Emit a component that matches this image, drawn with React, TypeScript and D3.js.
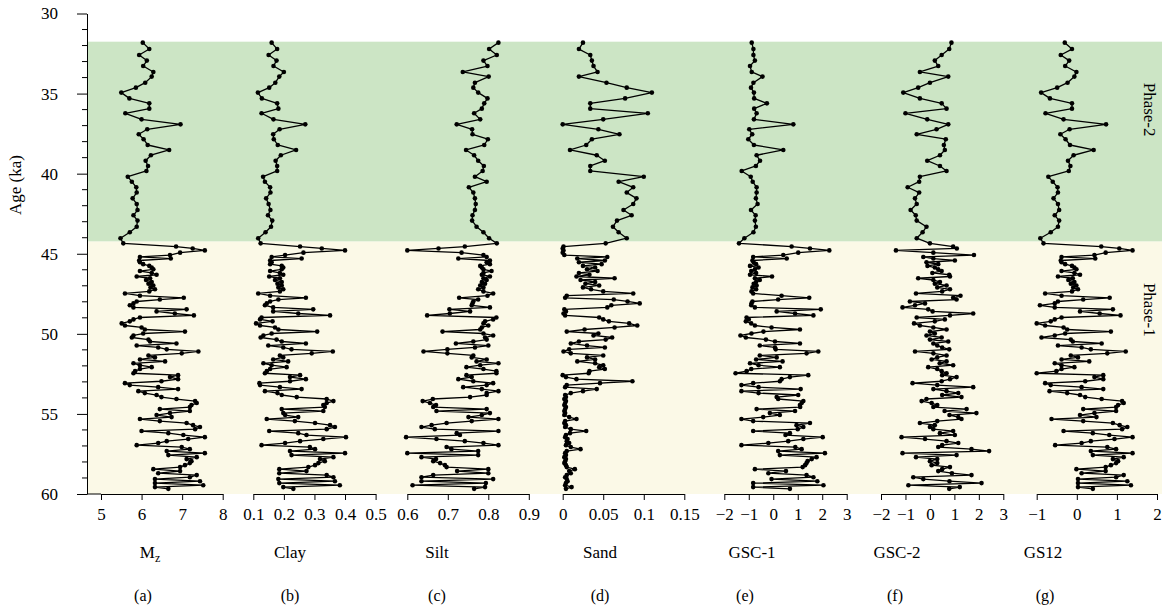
import React, { useEffect, useRef } from "react";
import * as d3 from "d3";

const WIDTH = 1167;
const HEIGHT = 616;

// sample ages (ka)
const phase2Ages = [
  31.82, 32.22, 32.59, 32.94, 33.28, 33.65, 33.94, 34.32, 34.63, 34.94,
  35.3, 35.61, 35.94, 36.23, 36.61, 36.92, 37.23, 37.54, 37.85, 38.21,
  38.52, 38.85, 39.19, 39.52, 39.83, 40.19, 40.5, 40.85, 41.18, 41.54,
  41.89, 42.27, 42.6, 42.93, 43.31, 43.66, 44.03, 44.35,
];
const phase1Ages = [
  44.55, 44.67, 44.79, 44.93, 45.08, 45.2, 45.3, 45.42, 45.53, 45.65,
  45.76, 45.86, 45.97, 46.08, 46.2, 46.31, 46.42, 46.53, 46.64, 46.76,
  46.87, 46.98, 47.1, 47.22, 47.35, 47.48, 47.62, 47.75, 47.86, 47.98,
  48.1, 48.22, 48.35, 48.47, 48.6, 48.73, 48.85, 48.98, 49.1, 49.22,
  49.35, 49.48, 49.6, 49.73, 49.86, 49.98, 50.1, 50.23, 50.36, 50.48,
  50.6, 50.73, 50.85, 50.97, 51.1, 51.22, 51.35, 51.47, 51.6, 51.72,
  51.84, 51.96, 52.08, 52.2, 52.33, 52.46, 52.58, 52.7, 52.83, 52.96,
  53.08, 53.2, 53.33, 53.45, 53.58, 53.7, 53.82, 53.95, 54.07, 54.2,
  54.32, 54.45, 54.57, 54.7, 54.82, 54.95, 55.07, 55.2, 55.32, 55.45,
  55.57, 55.7, 55.82, 55.95, 56.07, 56.2, 56.32, 56.45, 56.57, 56.7,
  56.82, 56.95, 57.07, 57.2, 57.32, 57.45, 57.57, 57.7, 57.82, 57.95,
  58.07, 58.2, 58.32, 58.45, 58.57, 58.7, 58.82, 58.95, 59.07, 59.2,
  59.32, 59.45, 59.57, 59.68,
];

const mzPhase2 = [
  6.03, 6.19, 5.94, 6.13, 6.04, 6.29, 6.25, 6.09, 5.86, 5.5,
  5.7, 6.19, 6.19, 5.6, 6.0, 6.96, 6.14, 5.93, 6.05, 6.15,
  6.68, 6.23, 6.1, 6.16, 6.12, 5.66, 5.76, 5.87, 5.88, 5.78,
  5.88, 5.9, 5.8, 5.9, 5.88, 5.71, 5.48, 5.55,
];
const mzPhase1 = [
  6.85, 7.26, 7.56, 6.95, 6.7, 5.96, 6.72, 5.94, 5.96, 6.04,
  6.19, 6.25, 6.29, 5.96, 6.25, 6.37, 5.88, 6.21, 6.11, 6.25,
  6.17, 6.29, 6.22, 6.33, 6.19, 5.59, 5.96, 7.04, 6.45, 5.88,
  5.8, 5.71, 5.8, 7.11, 6.37, 6.82, 7.29, 5.96, 5.8, 5.71,
  5.51, 5.59, 6.0, 6.08, 7.07, 6.04, 5.8, 5.76, 6.17, 6.21,
  6.86, 5.88, 6.41, 6.62, 7.4, 6.99, 6.17, 6.33, 5.96, 6.58,
  5.8, 5.96, 6.25, 5.96, 5.84, 5.8, 6.9, 6.7, 6.9, 6.49,
  5.59, 5.71, 6.41, 6.9, 5.92, 6.08, 6.37, 6.49, 6.86, 7.32,
  7.36, 7.23, 7.19, 6.45, 7.19, 6.7, 6.37, 6.74, 5.96, 6.45,
  7.11, 7.27, 7.44, 7.32, 6.0, 6.66, 7.03, 7.56, 7.15, 6.62,
  6.41, 5.88, 6.99, 7.19, 6.62, 7.56, 6.66, 7.36, 7.11, 7.23,
  7.19, 7.07, 6.95, 6.29, 6.95, 6.41, 7.36, 7.19, 6.33, 7.44,
  6.33, 7.52, 6.33, 6.66,
];

const clayPhase2 = [
  0.16, 0.178, 0.15, 0.176, 0.166, 0.2, 0.185, 0.172, 0.152, 0.115,
  0.128, 0.178, 0.182, 0.127, 0.166, 0.27, 0.186, 0.165, 0.167, 0.18,
  0.24, 0.19, 0.173, 0.178, 0.178, 0.132, 0.138, 0.155, 0.156, 0.142,
  0.15, 0.156, 0.148, 0.162, 0.158, 0.14, 0.116, 0.124,
];
const clayPhase1 = [
  0.253, 0.324, 0.4, 0.264, 0.204, 0.16, 0.258, 0.155, 0.16, 0.155,
  0.193, 0.198, 0.193, 0.155, 0.187, 0.198, 0.152, 0.187, 0.171, 0.193,
  0.179, 0.193, 0.182, 0.198, 0.187, 0.116, 0.155, 0.272, 0.182, 0.155,
  0.144, 0.138, 0.165, 0.296, 0.165, 0.247, 0.351, 0.127, 0.122, 0.163,
  0.109, 0.122, 0.171, 0.182, 0.309, 0.16, 0.133, 0.124, 0.176, 0.193,
  0.272, 0.149, 0.198, 0.225, 0.36, 0.291, 0.187, 0.198, 0.165, 0.214,
  0.133, 0.16, 0.209, 0.155, 0.144, 0.138, 0.253, 0.22, 0.272, 0.22,
  0.12, 0.122, 0.187, 0.258, 0.138, 0.179, 0.193, 0.242, 0.34, 0.362,
  0.34, 0.329, 0.334, 0.193, 0.329, 0.198, 0.204, 0.247, 0.144, 0.236,
  0.302, 0.351, 0.367, 0.34, 0.152, 0.247, 0.274, 0.403, 0.329, 0.253,
  0.204, 0.127, 0.285, 0.302, 0.22, 0.4, 0.225, 0.362, 0.318, 0.334,
  0.313, 0.302, 0.28, 0.185, 0.274, 0.185, 0.34, 0.362, 0.182, 0.367,
  0.185, 0.383, 0.198, 0.231,
];

const siltPhase2 = [
  0.825, 0.802, 0.821, 0.788, 0.798, 0.737, 0.801, 0.767, 0.763, 0.775,
  0.798, 0.79, 0.784, 0.765, 0.78, 0.722, 0.76, 0.761, 0.799, 0.79,
  0.745, 0.765, 0.775, 0.789, 0.786, 0.767, 0.796, 0.752, 0.763, 0.767,
  0.769, 0.767, 0.761, 0.76, 0.771, 0.788, 0.802, 0.821,
];
const siltPhase1 = [
  0.742, 0.677, 0.6, 0.734, 0.788, 0.796, 0.726, 0.804, 0.796, 0.804,
  0.78, 0.784, 0.788, 0.808, 0.788, 0.784, 0.804, 0.788, 0.796, 0.784,
  0.792, 0.78, 0.788, 0.775, 0.788, 0.812, 0.798, 0.728, 0.775, 0.763,
  0.761, 0.759, 0.804, 0.704, 0.755, 0.705, 0.649, 0.82, 0.812, 0.792,
  0.788, 0.8, 0.784, 0.78, 0.687, 0.788, 0.812, 0.792, 0.796, 0.763,
  0.72, 0.8, 0.767, 0.699, 0.64, 0.699, 0.763, 0.759, 0.796, 0.771,
  0.825, 0.78, 0.746, 0.788, 0.82, 0.82, 0.746, 0.759, 0.726, 0.763,
  0.812, 0.796, 0.738, 0.784, 0.825, 0.796, 0.796, 0.755, 0.663, 0.638,
  0.656, 0.671, 0.664, 0.796, 0.672, 0.804, 0.784, 0.751, 0.825, 0.759,
  0.697, 0.66, 0.635, 0.668, 0.825, 0.722, 0.73, 0.597, 0.672, 0.742,
  0.788, 0.825, 0.697, 0.709, 0.775, 0.6, 0.775, 0.635, 0.671, 0.664,
  0.681, 0.693, 0.697, 0.8, 0.723, 0.8, 0.664, 0.635, 0.812, 0.635,
  0.794, 0.613, 0.792, 0.765,
];

const sandPhase2 = [
  0.025, 0.02, 0.034, 0.036, 0.038, 0.043, 0.02, 0.054, 0.079, 0.11,
  0.077, 0.034, 0.034, 0.105, 0.05, 0.0, 0.044, 0.07, 0.036, 0.029,
  0.009, 0.042, 0.052, 0.034, 0.034, 0.1, 0.069, 0.087, 0.079, 0.091,
  0.087, 0.075, 0.085, 0.067, 0.062, 0.069, 0.079, 0.053,
];
const sandPhase1 = [
  0.001, 0.0, 0.001, 0.0, 0.002, 0.055, 0.018, 0.052, 0.02, 0.048,
  0.025, 0.04, 0.03, 0.043, 0.02, 0.033, 0.017, 0.064, 0.022, 0.04,
  0.028, 0.045, 0.025, 0.035, 0.05, 0.087, 0.005, 0.003, 0.063, 0.08,
  0.095, 0.06, 0.055, 0.002, 0.004, 0.001, 0.003, 0.045, 0.05, 0.057,
  0.082, 0.092, 0.064, 0.027, 0.005, 0.044, 0.038, 0.061, 0.053, 0.02,
  0.01, 0.03, 0.052, 0.008, 0.001, 0.01, 0.05, 0.03, 0.04, 0.018,
  0.04, 0.05, 0.045, 0.052, 0.033, 0.032, 0.0, 0.004, 0.017, 0.086,
  0.046, 0.005, 0.003, 0.042, 0.025, 0.01, 0.003, 0.004, 0.002, 0.004,
  0.003, 0.002, 0.004, 0.003, 0.002, 0.003, 0.002, 0.008, 0.017, 0.003,
  0.002, 0.004, 0.003, 0.01, 0.029, 0.009, 0.004, 0.003, 0.006, 0.005,
  0.008, 0.004, 0.01, 0.022, 0.005, 0.003, 0.004, 0.002, 0.004, 0.003,
  0.002, 0.004, 0.005, 0.015, 0.008, 0.01, 0.005, 0.003, 0.005, 0.006,
  0.004, 0.003, 0.011, 0.004,
];

const gsc1Phase2 = [
  -0.88, -0.81, -0.81, -0.75, -0.95, -0.88, -0.44, -0.81, -0.91, -0.79,
  -0.78, -0.26, -0.78, -0.68, -0.79, 0.82, -0.98, -0.86, -1.02, -0.79,
  0.41, -0.68, -0.54, -0.71, -1.29, -0.92, -0.84, -0.68, -0.68, -0.71,
  -0.64, -0.91, -0.72, -0.75, -0.71, -0.81, -1.18, -1.4,
];
const gsc1Phase1 = [
  0.75, 1.5, 2.29, 1.02, 0.41, -0.82, 0.55, -0.85, -0.8, -0.7,
  -0.95, -0.6, -0.75, -0.9, -0.7, -0.95, -0.05, -0.75, -0.55, -0.7,
  -0.8, -0.68, -0.85, -0.7, -0.89, -0.82, 0.34, 1.47, 0.2, -0.85,
  -0.89, -0.9, -0.75, 1.94, 0.14, 0.89, 1.64, -1.09, -1.0, -1.12,
  -0.9, -0.75, -0.07, 1.09, -0.4, -0.89, -1.34, -1.12, -0.3, 0.07,
  1.09, -0.55, 0.07, 0.1, 1.84, 1.36, -0.55, 0.14, -0.7, 0.38,
  -0.95, -0.6, 0.27, -0.9, -1.09, -1.54, 1.43, 0.68, 0.34, 0.27,
  -0.82, -1.3, -0.6, 1.12, -1.3, -0.6, 1.02, 0.14, 0.2, 1.23,
  1.16, 1.09, 1.1, -0.68, 0.89, -0.14, 0.27, -0.41, -1.3, -0.82,
  1.5, 0.95, 1.23, 1.0, -0.82, 0.68, 0.5, 2.02, 1.23, 0.61,
  -0.2, -1.3, 0.9, 1.16, 0.2, 2.11, 0.27, 1.77, 1.57, 1.4,
  1.36, 1.3, 1.2, -0.75, 0.52, -0.2, 1.36, 1.64, -0.07, 1.8,
  -0.82, 2.05, -0.82, 0.68,
];

const gsc2Phase2 = [
  0.88, 0.79, 0.48, 0.2, 0.34, -0.41, 0.75, 0.0, -0.48, -1.09,
  -0.41, 0.48, 0.68, -1.0, -0.11, 0.75, 0.27, -0.54, 0.65, 0.57,
  0.61, 0.41, -0.11, 0.41, 0.68, -0.41, -0.44, -0.91, -0.44, -0.61,
  -0.54, -0.79, -0.58, -0.54, -0.14, -0.3, -0.54, 0.0,
];
const gsc2Phase1 = [
  0.95, 1.1, -1.39, 0.14, 1.8, -0.27, 0.14, 1.02, -0.14, 0.34,
  -0.1, 0.2, 0.34, 0.48, 0.1, 0.79, 0.82, -0.48, 0.14, 0.41,
  0.2, 0.68, 0.3, 0.82, 0.5, -0.57, 1.25, 0.95, 1.09, -0.82,
  -0.2, -0.61, -1.12, -0.07, 0.11, 1.77, 0.82, -0.54, 0.61, 0.2,
  -0.65, -0.41, 0.14, 0.68, 0.0, 0.2, -0.14, 0.48, 0.0, 0.75,
  0.14, 0.3, 0.5, 0.79, -0.61, 0.14, 0.68, 0.3, 0.07, 0.68,
  0.4, 0.95, -0.07, 0.3, 0.48, 0.68, 0.5, 1.09, 0.82, 0.48,
  -0.71, 0.3, 1.77, 0.14, 0.68, 1.16, 0.5, 1.29, -0.14, -0.34,
  0.07, 0.3, 0.14, 1.5, 0.6, 1.9, 0.8, 1.16, 1.29, 0.3,
  -0.41, 0.2, 0.0, 0.14, 0.95, 0.41, 1.02, -1.16, -0.2, 0.68,
  1.16, 0.5, 0.34, 1.7, 2.42, -1.12, 1.09, -0.57, 0.3, 0.0,
  0.3, 0.07, 0.82, 0.5, 0.34, 0.9, 1.7, -0.68, -0.27, 0.8,
  2.11, -0.88, 1.22, 0.79,
];

const gs12Phase2 = [
  -0.3, -0.12, -0.4, -0.19, -0.29, -0.01, -0.06, -0.23, -0.49, -0.89,
  -0.67, -0.12, -0.12, -0.78, -0.33, 0.73, -0.18, -0.41, -0.28, -0.17,
  0.42, -0.08, -0.22, -0.16, -0.2, -0.71, -0.6, -0.48, -0.47, -0.58,
  -0.47, -0.44, -0.55, -0.44, -0.47, -0.65, -0.91, -0.83,
];
const gs12Phase1 = [
  0.61, 1.06, 1.39, 0.72, 0.44, -0.38, 0.46, -0.4, -0.38, -0.29,
  -0.12, -0.06, -0.01, -0.38, -0.06, 0.08, -0.47, -0.1, -0.21, -0.06,
  -0.15, -0.01, -0.09, 0.03, -0.12, -0.79, -0.38, 0.82, 0.16, -0.47,
  -0.55, -0.92, -0.55, 0.9, 0.08, 0.57, 1.09, -0.38, -0.55, -0.65,
  -1.0, -0.79, -0.33, -0.24, 0.85, -0.29, -0.55, -0.88, -0.15, -0.1,
  0.62, -0.47, 0.12, 0.35, 1.22, 0.76, -0.15, 0.03, -0.38, 0.31,
  -0.55, -0.38, -0.06, -0.38, -0.51, -1.0, 0.66, 0.44, 0.66, 0.21,
  -0.79, -0.65, 0.12, 0.66, -0.68, -0.24, 0.08, 0.21, 0.62, 1.13,
  1.17, 1.03, 0.98, 0.16, 0.98, 0.44, 0.08, 0.49, -0.63, 0.16,
  0.9, 1.07, 1.26, 1.13, -0.33, 0.4, 0.81, 1.39, 0.94, 0.35,
  0.12, -0.54, 0.76, 0.98, 0.35, 1.39, 0.4, 1.17, 0.9, 1.03,
  0.98, 0.85, 0.72, -0.01, 0.72, 0.12, 1.17, 0.98, 0.03, 1.26,
  0.03, 1.35, 0.03, 0.4,
];

const ageTicks = [30, 35, 40, 45, 50, 55, 60];
const minorAgeTicks = d3.range(30, 61, 1);
// green band top, phase boundary, bottom
const phaseBounds = [31.76, 44.24, 60];

const ages = [...phase2Ages, ...phase1Ages];

const panels = [
  { letter: "(a)", title: "M", sub: "z", values: [...mzPhase2, ...mzPhase1], domain: [5, 8], range: [101, 222.7], ticks: [5, 6, 7, 8], titleX: 150, letterX: 143 },
  { letter: "(b)", title: "Clay", values: [...clayPhase2, ...clayPhase1], domain: [0.1, 0.5], range: [253.3, 375.6], ticks: [0.1, 0.2, 0.3, 0.4, 0.5], titleX: 290, letterX: 290 },
  { letter: "(c)", title: "Silt", values: [...siltPhase2, ...siltPhase1], domain: [0.6, 0.9], range: [407.3, 528.8], ticks: [0.6, 0.7, 0.8, 0.9], titleX: 437, letterX: 437 },
  { letter: "(d)", title: "Sand", values: [...sandPhase2, ...sandPhase1], domain: [0, 0.15], range: [562.7, 684.3], ticks: [0, 0.05, 0.1, 0.15], titleX: 600, letterX: 600 },
  { letter: "(e)", title: "GSC-1", values: [...gsc1Phase2, ...gsc1Phase1], domain: [-2, 3], range: [724.3, 846.7], ticks: [-2, -1, 0, 1, 2, 3], titleX: 752, letterX: 745 },
  { letter: "(f)", title: "GSC-2", values: [...gsc2Phase2, ...gsc2Phase1], domain: [-2, 3], range: [881, 1003.3], ticks: [-2, -1, 0, 1, 2, 3], titleX: 897, letterX: 895 },
  { letter: "(g)", title: "GS12", values: [...gs12Phase2, ...gs12Phase1], domain: [-1, 2], range: [1036.7, 1157], ticks: [-1, 0, 1, 2], titleX: 1043, letterX: 1045 },
];

const FONT = "'Liberation Serif', 'Times New Roman', serif";
const GREEN = "#cce5c5";
const YELLOW = "#fbf9e7";
const AXIS_X = 87;
const BAND_RIGHT = 1162;

export default function App() {
  const svgRef = useRef<SVGSVGElement | null>(null);

  useEffect(() => {
    const svg = d3.select(svgRef.current);
    svg.selectAll("*").remove();

    const y = d3.scaleLinear().domain([30, 60]).range([13.5, 494]);
    const yBottom = y(60);

    // phase bands
    svg.append("rect")
      .attr("x", AXIS_X).attr("width", BAND_RIGHT - AXIS_X)
      .attr("y", y(phaseBounds[0])).attr("height", y(phaseBounds[1]) - y(phaseBounds[0]))
      .attr("fill", GREEN);
    svg.append("rect")
      .attr("x", AXIS_X).attr("width", BAND_RIGHT - AXIS_X)
      .attr("y", y(phaseBounds[1])).attr("height", y(phaseBounds[2]) - y(phaseBounds[1]))
      .attr("fill", YELLOW);

    svg.append("text")
      .attr("transform", `translate(1150,${y(36)}) rotate(90)`)
      .attr("text-anchor", "middle").attr("dy", "0.35em")
      .attr("font-size", 17).attr("font-family", FONT)
      .text("Phase-2");
    svg.append("text")
      .attr("transform", `translate(1150,${y(48.5)}) rotate(90)`)
      .attr("text-anchor", "middle").attr("dy", "0.35em")
      .attr("font-size", 17).attr("font-family", FONT)
      .text("Phase-1");

    // panels
    panels.forEach((p) => {
      const x = d3.scaleLinear().domain(p.domain).range(p.range);
      const pts = p.values.map((v, i) => [x(v), y(ages[i])] as [number, number]);
      const g = svg.append("g");
      g.append("path")
        .attr("d", d3.line()(pts))
        .attr("fill", "none")
        .attr("stroke", "#000")
        .attr("stroke-width", 1.3)
        .attr("stroke-linejoin", "round");
      g.selectAll("circle")
        .data(pts)
        .join("circle")
        .attr("cx", (d) => d[0])
        .attr("cy", (d) => d[1])
        .attr("r", 2.3)
        .attr("fill", "#000");

      const ax = svg.append("g")
        .attr("transform", `translate(0,${yBottom})`)
        .call(
          d3.axisBottom(x)
            .tickValues(p.ticks)
            .tickSize(6)
            .tickSizeOuter(0)
            .tickFormat(d3.format("~g") as any),
        );
      ax.attr("font-family", FONT).attr("font-size", 17);
      ax.selectAll("text").attr("fill", "#000").attr("dy", "1em");
      ax.selectAll("line,path").attr("stroke", "#000");

      const t = svg.append("text")
        .attr("x", p.titleX).attr("y", 558)
        .attr("text-anchor", "middle")
        .attr("font-family", FONT).attr("font-size", 17)
        .text(p.title);
      if (p.sub) {
        t.append("tspan").attr("font-size", 12).attr("dy", 4).text(p.sub);
      }
      svg.append("text")
        .attr("x", p.letterX).attr("y", 601)
        .attr("text-anchor", "middle")
        .attr("font-family", FONT).attr("font-size", 16)
        .text(p.letter);
    });

    // join of first x-axis with the age axis
    svg.append("line")
      .attr("x1", AXIS_X).attr("x2", panels[0].range[0])
      .attr("y1", yBottom).attr("y2", yBottom)
      .attr("stroke", "#000");

    // age axis
    const yAx = svg.append("g")
      .attr("transform", `translate(${AXIS_X},0)`)
      .call(d3.axisLeft(y).tickValues(ageTicks).tickSize(10).tickSizeOuter(0));
    yAx.attr("font-family", FONT).attr("font-size", 17);
    yAx.selectAll("text").attr("fill", "#000").attr("x", -29);
    yAx.selectAll("line,path").attr("stroke", "#000");
    svg.append("g")
      .attr("transform", `translate(${AXIS_X},0)`)
      .selectAll("line")
      .data(minorAgeTicks.filter((d) => !ageTicks.includes(d)))
      .join("line")
      .attr("x1", -5).attr("x2", 0)
      .attr("y1", (d) => y(d)).attr("y2", (d) => y(d))
      .attr("stroke", "#000");

    svg.append("text")
      .attr("transform", `translate(21,${185}) rotate(-90)`)
      .attr("text-anchor", "middle")
      .attr("font-family", FONT).attr("font-size", 17)
      .text("Age (ka)");
  }, []);

  return (
    <svg
      ref={svgRef}
      width={WIDTH}
      height={HEIGHT}
      style={{ position: "absolute", left: 0, top: 0, background: "#fff" }}
    />
  );
}
